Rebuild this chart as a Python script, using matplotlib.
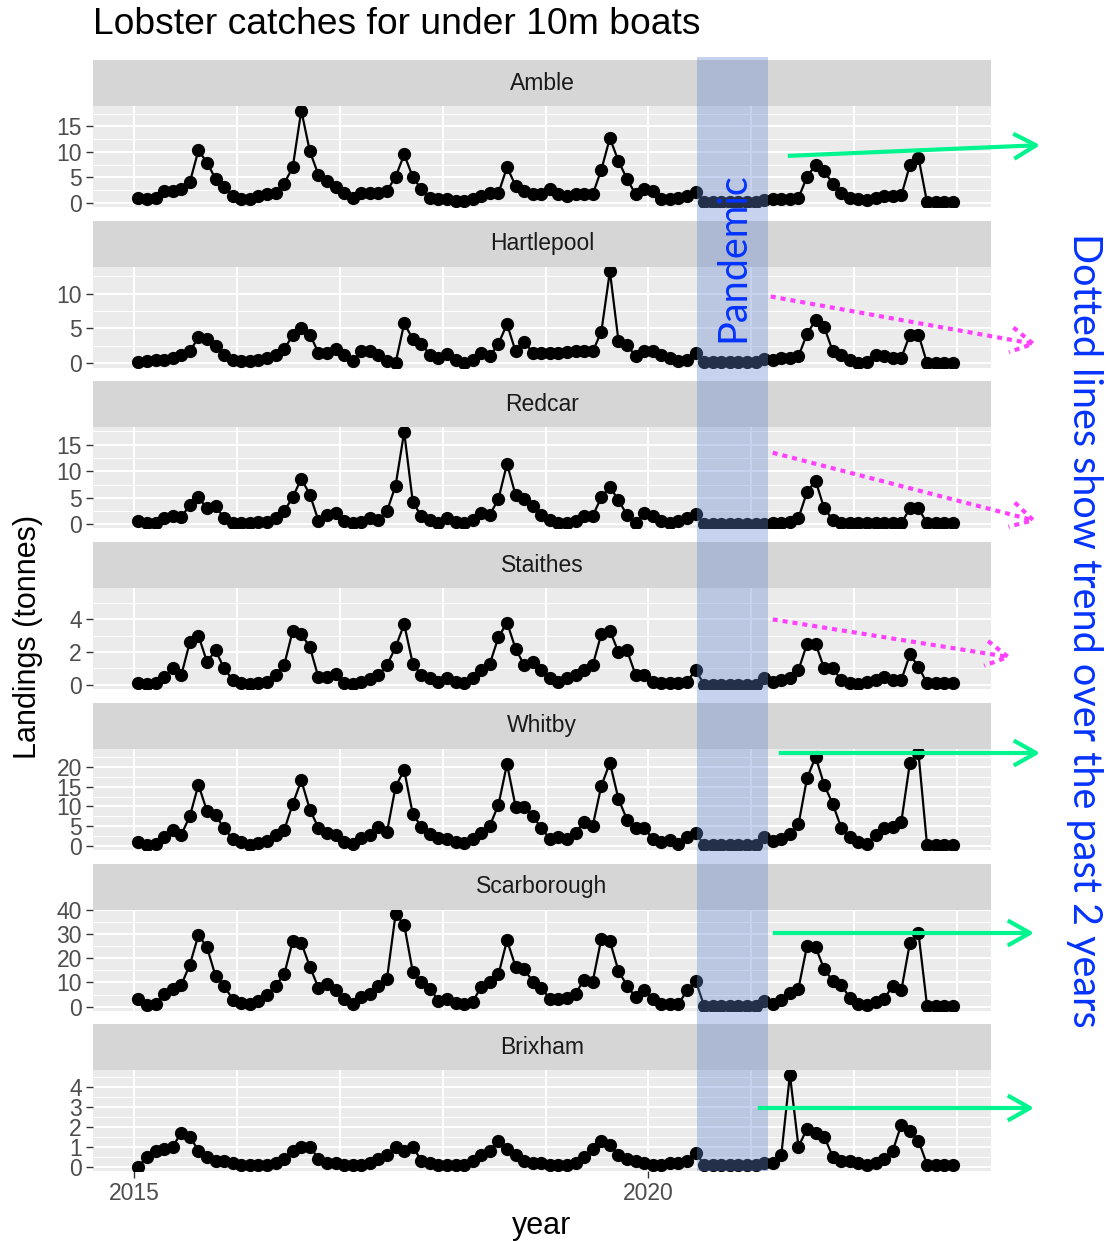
import numpy as np
import matplotlib
matplotlib.use("Agg")
import matplotlib.pyplot as plt
from matplotlib.patches import Rectangle, FancyArrowPatch
from matplotlib.transforms import blended_transform_factory

plt.rcParams['font.family'] = ['Liberation Sans', 'DejaVu Sans']

# monthly landings (tonnes), Jan 2015 - Dec 2022
ports = ["Amble", "Hartlepool", "Redcar", "Staithes", "Whitby", "Scarborough", "Brixham"]

amble = [1.0, 0.8, 1.0, 2.3, 2.4, 2.7, 4.1, 10.3, 7.9, 4.7, 3.1, 1.4,
         0.7, 0.7, 1.4, 1.7, 2.0, 3.8, 7.0, 18.1, 10.1, 5.5, 4.2, 3.1,
         2.0, 1.0, 2.0, 1.9, 1.9, 2.4, 5.1, 9.5, 5.1, 2.7, 1.0, 0.7,
         0.7, 0.3, 0.3, 0.7, 1.4, 1.9, 1.9, 7.0, 3.4, 2.4, 1.7, 1.7,
         2.7, 1.7, 1.4, 1.7, 1.7, 1.7, 6.5, 12.7, 8.2, 4.7, 1.7, 2.7,
         2.4, 0.7, 0.7, 1.0, 1.4, 2.2, 0.2, 0.2, 0.2, 0.2, 0.2, 0.2,
         0.2, 0.5, 0.7, 0.7, 0.7, 1.0, 5.1, 7.5, 6.2, 3.8, 1.9, 1.0,
         0.7, 0.6, 1.0, 1.4, 1.4, 1.5, 7.4, 8.9, 0.1, 0.1, 0.1, 0.1]

hartlepool = [0.15, 0.25, 0.5, 0.4, 0.75, 1.1, 1.7, 3.7, 3.5, 2.5, 1.2, 0.5,
              0.35, 0.3, 0.5, 0.75, 1.1, 2.0, 4.0, 5.0, 4.1, 1.5, 1.5, 2.0,
              1.2, 0.35, 1.8, 1.7, 1.2, 0.35, 0.0, 5.7, 3.5, 2.8, 1.2, 0.75,
              1.3, 0.5, 0.0, 0.5, 1.5, 1.0, 2.8, 5.6, 1.7, 3.1, 1.5, 1.5,
              1.5, 1.5, 1.6, 1.8, 1.7, 1.7, 4.5, 13.2, 3.2, 2.6, 1.0, 1.7,
              1.7, 1.1, 0.75, 0.25, 0.5, 1.5, 0.1, 0.1, 0.1, 0.1, 0.1, 0.1,
              0.1, 0.6, 0.5, 0.75, 0.75, 1.0, 4.2, 6.2, 5.2, 1.7, 1.2, 0.5,
              0.0, 0.1, 1.2, 1.0, 0.75, 0.75, 4.1, 4.1, 0.0, 0.0, 0.0, 0.0]

redcar = [0.7, 0.2, 0.2, 1.2, 1.5, 1.4, 3.6, 5.1, 3.0, 3.4, 1.2, 0.3,
          0.2, 0.2, 0.5, 0.5, 1.2, 2.5, 5.1, 8.6, 5.6, 0.7, 1.8, 2.2,
          0.7, 0.3, 0.5, 1.2, 0.9, 2.5, 7.3, 17.4, 4.3, 1.5, 0.9, 0.3,
          1.2, 0.5, 0.2, 0.9, 2.2, 1.8, 4.8, 11.4, 5.5, 4.7, 3.4, 1.8,
          0.9, 0.3, 0.2, 0.7, 1.5, 1.6, 5.1, 7.1, 4.5, 1.8, 0.3, 2.2,
          1.5, 0.7, 0.3, 0.7, 1.2, 2.0, 0.1, 0.1, 0.1, 0.1, 0.1, 0.1,
          0.1, 0.1, 0.2, 0.3, 0.5, 1.2, 6.1, 8.2, 3.0, 0.9, 0.2, 0.2,
          0.2, 0.2, 0.2, 0.2, 0.2, 0.2, 3.0, 3.0, 0.2, 0.2, 0.2, 0.2]

staithes = [0.1, 0.05, 0.1, 0.5, 1.0, 0.6, 2.6, 3.0, 1.4, 2.1, 1.0, 0.3,
            0.1, 0.05, 0.1, 0.2, 0.6, 1.2, 3.3, 3.1, 2.3, 0.45, 0.5, 0.65,
            0.1, 0.05, 0.15, 0.35, 0.6, 1.2, 2.3, 3.7, 1.3, 0.6, 0.4, 0.2,
            0.4, 0.2, 0.1, 0.4, 0.9, 1.3, 2.9, 3.8, 2.2, 1.2, 1.4, 0.9,
            0.4, 0.2, 0.4, 0.6, 0.9, 1.2, 3.1, 3.3, 2.0, 2.1, 0.6, 0.6,
            0.2, 0.1, 0.1, 0.1, 0.2, 0.9, 0.02, 0.02, 0.02, 0.02, 0.02, 0.02,
            0.02, 0.4, 0.2, 0.3, 0.4, 0.9, 2.5, 2.5, 1.0, 1.0, 0.3, 0.1,
            0.05, 0.2, 0.3, 0.45, 0.3, 0.3, 1.85, 1.1, 0.1, 0.1, 0.1, 0.1]

whitby = [1.0, 0.1, 0.35, 2.1, 3.9, 2.8, 7.5, 15.5, 8.8, 7.7, 4.4, 1.7,
          0.8, 0.1, 0.6, 1.2, 2.6, 3.9, 10.6, 16.6, 9.2, 4.5, 3.3, 2.8,
          0.8, 0.35, 1.9, 2.8, 4.8, 3.5, 15.0, 19.3, 8.1, 4.8, 3.0, 1.9,
          1.7, 1.0, 0.6, 1.7, 3.3, 5.1, 10.4, 20.8, 9.9, 9.9, 7.5, 4.5,
          1.7, 2.1, 1.7, 3.3, 6.0, 5.1, 15.2, 21.1, 11.9, 6.6, 4.5, 4.5,
          1.7, 0.8, 1.5, 0.35, 2.1, 3.3, 0.1, 0.1, 0.1, 0.1, 0.1, 0.1,
          0.1, 2.1, 1.2, 1.7, 3.0, 5.4, 17.2, 22.6, 15.5, 10.6, 4.5, 2.1,
          0.8, 0.35, 2.8, 4.4, 4.8, 6.1, 21.1, 23.5, 0.1, 0.1, 0.1, 0.1]

scarborough = [3.2, 0.6, 1.0, 5.4, 7.5, 9.0, 17.4, 29.6, 24.6, 12.6, 8.7, 2.9,
               1.7, 1.0, 2.5, 4.9, 8.7, 13.3, 27.1, 26.4, 16.5, 7.8, 9.3, 6.8,
               3.2, 1.0, 3.9, 5.4, 8.7, 11.6, 38.3, 33.9, 14.5, 10.1, 7.5, 2.5,
               3.2, 1.7, 1.0, 2.0, 8.3, 10.1, 13.3, 27.5, 16.5, 15.5, 10.4, 7.8,
               3.2, 3.2, 3.5, 5.4, 11.2, 10.4, 28.1, 27.1, 14.8, 8.7, 3.9, 6.8,
               3.2, 1.0, 1.0, 1.0, 6.8, 10.7, 0.3, 0.3, 0.3, 0.3, 0.3, 0.3,
               0.3, 2.5, 1.0, 2.9, 5.8, 7.5, 25.2, 24.6, 15.5, 10.7, 9.0, 3.5,
               1.0, 0.6, 2.0, 3.2, 8.7, 6.8, 26.4, 30.4, 0.3, 0.3, 0.3, 0.3]

brixham = [0.0, 0.5, 0.8, 0.9, 1.0, 1.7, 1.5, 0.8, 0.5, 0.3, 0.3, 0.2,
           0.1, 0.1, 0.1, 0.1, 0.2, 0.4, 0.8, 1.0, 1.0, 0.4, 0.2, 0.2,
           0.1, 0.1, 0.1, 0.2, 0.4, 0.6, 1.0, 0.8, 1.0, 0.3, 0.2, 0.1,
           0.1, 0.1, 0.1, 0.3, 0.6, 0.8, 1.3, 0.9, 0.6, 0.3, 0.2, 0.2,
           0.1, 0.1, 0.1, 0.2, 0.5, 0.9, 1.3, 1.1, 0.6, 0.4, 0.3, 0.2,
           0.1, 0.1, 0.2, 0.2, 0.3, 0.7, 0.1, 0.1, 0.1, 0.1, 0.1, 0.1,
           0.1, 0.2, 0.2, 0.6, 4.6, 1.0, 1.9, 1.7, 1.5, 0.5, 0.3, 0.3,
           0.2, 0.1, 0.2, 0.4, 0.8, 2.1, 1.8, 1.3, 0.1, 0.1, 0.1, 0.1]

series = [amble, hartlepool, redcar, staithes, whitby, scarborough, brixham]
yticks = [[0, 5, 10, 15], [0, 5, 10], [0, 5, 10, 15], [0, 2, 4],
          [0, 5, 10, 15, 20], [0, 10, 20, 30, 40], [0, 1, 2, 3, 4]]
# Staithes panel in the original has extra headroom above the data
ytop = [None, None, None, 5.9, None, None, None]

years = 2015 + (np.arange(96) + 0.5) / 12
pandemic = (2020.47, 2021.16)

W, H = 1107, 1241
fig = plt.figure(figsize=(W / 100, H / 100), dpi=100)

left, right = 93, 991
top0, step, strip_h, panel_h = 60, 160.7, 46, 101

axes = []
for k, (name, vals, ticks) in enumerate(zip(ports, series, yticks)):
    ptop = top0 + k * step + strip_h
    ax = fig.add_axes([left / W, 1 - (ptop + panel_h) / H, (right - left) / W, panel_h / H])
    ax.set_facecolor('#EBEBEB')
    for s in ax.spines.values():
        s.set_visible(False)
    ax.plot(years, vals, color='black', lw=1.6, marker='o', ms=8.5, zorder=3)
    ax.set_yticks(ticks)
    d = ticks[1] - ticks[0]
    ax.set_yticks(np.arange(-d / 2, ticks[-1] + d, d), minor=True)
    ax.set_xticks([2015, 2020])
    ax.set_xticks(range(2016, 2024), minor=True)
    # ggplot-like 5% expansion
    lo, hi = min(vals), max(vals)
    if ytop[k] is not None:
        hi = ytop[k] / 1.05
    pad = 0.05 * (hi - lo)
    ax.set_ylim(lo - pad, hi + pad)
    ax.set_xlim(2014.6, 2023.33)
    ax.grid(True, which='major', color='white', lw=1.5, zorder=0)
    ax.grid(True, which='minor', axis='y', color='white', lw=0.7, zorder=0)
    ax.grid(True, which='minor', axis='x', color='white', lw=1.5, zorder=0)
    ax.set_axisbelow(True)
    ax.tick_params(which='major', length=5, width=1, color='#333333',
                   labelsize=16.5, labelcolor='#4D4D4D', pad=3)
    ax.tick_params(which='minor', length=0)
    if k < len(ports) - 1:
        ax.tick_params(axis='x', which='both', length=0, labelbottom=False)
    # strip
    sh = strip_h / panel_h
    ax.add_patch(Rectangle((0, 1), 1, sh, transform=ax.transAxes, clip_on=False,
                           facecolor='#D6D6D6', edgecolor='none', zorder=1))
    ax.text(0.5, 1 + sh / 2, name, transform=ax.transAxes, ha='center', va='center',
            fontsize=16.5, color='#1A1A1A')
    axes.append(ax)

# pandemic band across all panels
tr = blended_transform_factory(axes[0].transData, fig.transFigure)
band = Rectangle((pandemic[0], 1 - 1171 / H), pandemic[1] - pandemic[0], (1171 - 57) / H,
                 transform=tr, facecolor='#6687D0', alpha=0.36, edgecolor='none', zorder=5)
fig.add_artist(band)

blue = '#0433FF'
fig.text(733 / W, 1 - 257 / H, "Pandemic", rotation=90, ha='center', va='center',
         fontsize=28.5, color=blue, family=['Lato', 'DejaVu Sans'], zorder=6)
fig.text(1085 / W, 1 - 630 / H, "Dotted lines show trend over the past 2 years", rotation=-90,
         ha='center', va='center', fontsize=28.5, color=blue, family=['Lato', 'DejaVu Sans'])

# trend arrows (figure pixel positions)
green, magenta = '#00F58E', '#FF40FF'
arrows = [((785, 156), (1043, 145), green, '-'),
          ((768, 296), (1040, 345), magenta, ':'),
          ((770, 452), (1040, 522), magenta, ':'),
          ((770, 619), (1015, 658), magenta, ':'),
          ((776, 753), (1043, 753), green, '-'),
          ((770, 933), (1037, 933), green, '-'),
          ((755, 1108), (1037, 1108), green, '-')]
for (x0, y0), (x1, y1), c, ls in arrows:
    a = FancyArrowPatch((x0 / W, 1 - y0 / H), (x1 / W, 1 - y1 / H), transform=fig.transFigure,
                        arrowstyle='->,head_length=0.8,head_width=0.45', mutation_scale=20,
                        color=c, lw=3, linestyle=(0, (1.2, 1.2)) if ls == ':' else '-',
                        capstyle='butt', zorder=7)
    fig.add_artist(a)

fig.text(93 / W, 1 - 24 / H, "Lobster catches for under 10m boats", ha='left', va='center',
         fontsize=26.8, color='black')
fig.text(542 / W, 1 - 1226 / H, "year", ha='center', va='center', fontsize=22, color='black')
fig.text(28 / W, 1 - 637 / H, "Landings (tonnes)", rotation=90, ha='center', va='center',
         fontsize=22, color='black')

fig.savefig("out.png", dpi=100)
